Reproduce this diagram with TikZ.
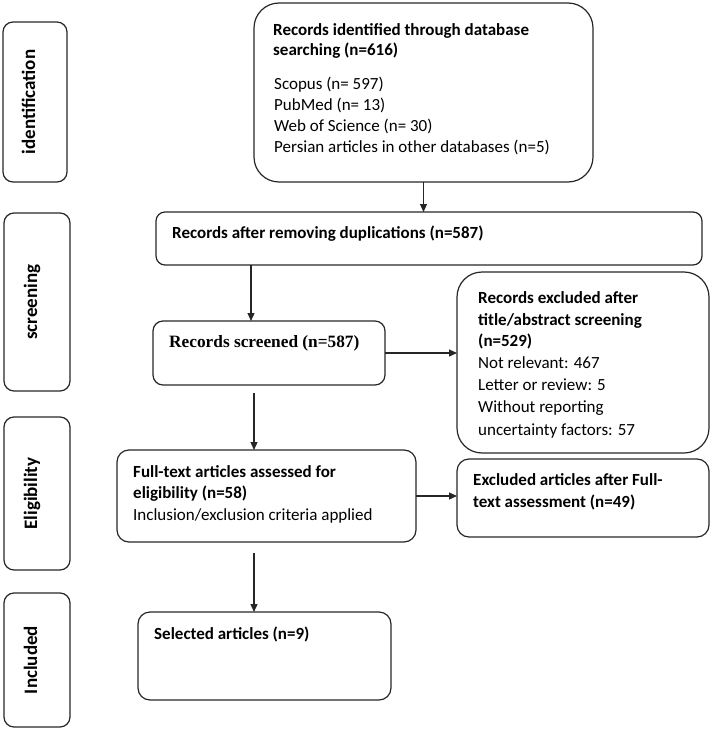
\documentclass[tikz,border=0pt]{standalone}
\usepackage{fontspec}
\setmainfont{Carlito}
\newfontfamily\timesfont{Liberation Serif}
\usetikzlibrary{arrows.meta}
\begin{document}
\begin{tikzpicture}[x=1pt,y=-1pt,
  box/.style={draw=black!85, line width=1.2pt, rounded corners=#1, anchor=north west, inner sep=0pt, outer sep=0pt},
  box/.default=10pt,
  txt/.style={anchor=base west, inner sep=0pt, font=\fontsize{17}{20}\selectfont},
  txtb/.style={anchor=base west, inner sep=0pt, font=\fontsize{17}{20}\selectfont\bfseries},
  side/.style={anchor=base, rotate=90, inner sep=0pt, font=\fontsize{19}{22}\selectfont\bfseries},
  arr/.style={draw=black!85, line width=1.2pt, -{Triangle[length=8pt,width=7pt]}}]
\useasboundingbox (0,0) rectangle (712,730);

% side boxes
\node[box=10pt, minimum width=64pt, minimum height=160pt] (s1) at (3,22) {};
\node[box=10pt, minimum width=66pt, minimum height=178pt] (s2) at (4,213) {};
\node[box=10pt, minimum width=66pt, minimum height=153pt] (s3) at (4,417) {};
\node[box=10pt, minimum width=66pt, minimum height=134pt] (s4) at (4,593) {};
\node[side] (l1) at (s1.center) {identification};
\node[side] (l2) at (s2.center) {screening};
\node[side] (l3) at (s3.center) {Eligibility};
\node[side] (l4) at (s4.center) {Included};

% main boxes
\node[box=25pt, minimum width=339pt, minimum height=179pt] (top) at (254,3) {};
\node[box=9pt, minimum width=546pt, minimum height=53pt] (after) at (156,212) {};
\node[box=10pt, minimum width=232pt, minimum height=64pt] (scr) at (153,321) {};
\node[box=25pt, minimum width=252pt, minimum height=181pt] (exc) at (457,272) {};
\node[box=12pt, minimum width=299pt, minimum height=92pt] (full) at (117,450) {};
\node[box=12pt, minimum width=252pt, minimum height=78pt] (exc2) at (457,459) {};
\node[box=12pt, minimum width=253pt, minimum height=88pt] (sel) at (138,612) {};

% texts
\node[txtb] (t1) at (273,35.5) {Records identified through database};
\node[txtb] (t2) at (273,56) {searching (n=616)};
\node[txt] (t3) at (274,90) {Scopus (n= 597)};
\node[txt] (t4) at (274,110.7) {PubMed (n= 13)};
\node[txt] (t5) at (274,131.4) {Web of Science (n= 30)};
\node[txt] (t6) at (274,152.1) {Persian articles in other databases (n=5)};

\node[txtb] (a1) at (172,238) {Records after removing duplications (n=587)};

\node[anchor=base west, inner sep=0pt, font=\fontsize{17.3}{20}\timesfont\bfseries] (r1) at (169,347) {Records screened (n=587)};

\node[txtb] (e1) at (478,303) {Records excluded after};
\node[txtb] (e2) at (478,325) {title/abstract screening};
\node[txtb] (e3) at (478,346.5) {(n=529)};
\node[txt] (e4) at (478,368) {Not relevant: 467};
\node[txt] (e5) at (478,390) {Letter or review: 5};
\node[txt] (e6) at (478,412.5) {Without reporting};
\node[txt] (e7) at (478,435) {uncertainty factors: 57};

\node[txtb] (f1) at (133,477) {Full-text articles assessed for};
\node[txtb] (f2) at (133,498) {eligibility (n=58)};
\node[txt] (f3) at (133,520) {Inclusion/exclusion criteria applied};

\node[txtb] (x1) at (473,485) {Excluded articles after Full-};
\node[txtb] (x2) at (473,507) {text assessment (n=49)};

\node[txtb] (g1) at (154,639) {Selected articles (n=9)};

% connectors
\coordinate (c1) at (251,0);
\coordinate (c2) at (254,0);
\coordinate (d1) at (0,393);
\coordinate (d2) at (0,553);
\draw[arr] (top.south) -- (top.south |- after.north);
\draw[arr] (after.south -| c1) -- (scr.north -| c1);
\draw[arr] (scr.east) -- (scr.east -| exc.west);
\draw[arr] (d1 -| c2) -- (full.north -| c2);
\draw[arr] (full.east) -- (full.east -| exc2.west);
\draw[arr] (d2 -| c2) -- (sel.north -| c2);
\end{tikzpicture}
\end{document}
